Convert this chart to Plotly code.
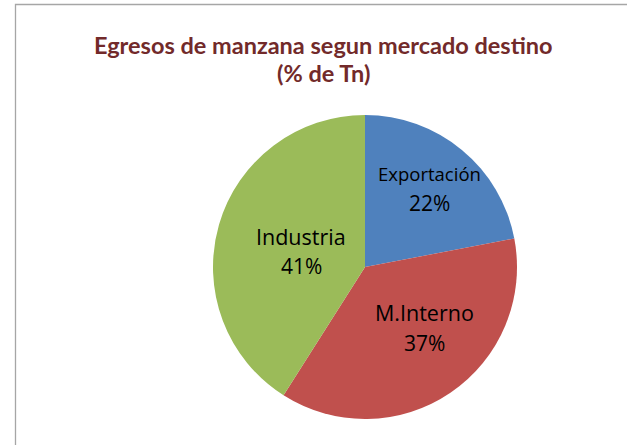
import plotly.graph_objects as go

labels = ["Exportación", "M.Interno", "Industria"]
values = [22, 37, 41]
colors = ["#4F81BD", "#C0504D", "#9BBB59"]
title_lines = ["Egresos de manzana segun mercado destino", "(% de Tn)"]

W, H = 627, 445

def px(x):
    return x / W

def py(y):
    return 1 - y / H

fig = go.Figure(go.Pie(
    labels=labels,
    values=values,
    sort=False,
    direction="clockwise",
    rotation=0,
    marker=dict(colors=colors, line=dict(width=0)),
    textinfo="none",
    showlegend=False,
    hoverinfo="label+percent",
    domain=dict(x=[px(213), px(517)], y=[py(419), py(115)]),
))

fig.add_shape(type="rect", xref="paper", yref="paper",
              x0=px(15.5), x1=1.05, y0=-0.05, y1=py(4.5),
              line=dict(color="#A6A6A6", width=1.3), fillcolor="rgba(0,0,0,0)", layer="below")

# title
for line, yc in zip(title_lines, [45, 73]):
    fig.add_annotation(
        text=f"<b>{line}</b>", xref="paper", yref="paper",
        x=px(323), y=py(yc), showarrow=False, xanchor="center", yanchor="middle",
        font=dict(family="Lato", size=23.5, color="#722A2A"),
    )

# data labels (label line + percent line)
total = sum(values)
label_pos = [(430, 173, 203), (425, 312, 343), (301, 236, 266)]
label_sizes = [18.5, 21.5, 21.5]
for lab, val, (xc, y1, y2), ls in zip(labels, values, label_pos, label_sizes):
    fig.add_annotation(text=lab, xref="paper", yref="paper", x=px(xc), y=py(y1),
                       showarrow=False, xanchor="center", yanchor="middle",
                       font=dict(family="Open Sans", size=ls, color="#000000"))
    fig.add_annotation(text=f"{round(100 * val / total)}%", xref="paper", yref="paper",
                       x=px(xc), y=py(y2), showarrow=False, xanchor="center", yanchor="middle",
                       font=dict(family="Open Sans", size=21, color="#000000"))

fig.update_layout(
    width=W, height=H,
    margin=dict(l=0, r=0, t=0, b=0),
    paper_bgcolor="white", plot_bgcolor="white",
)

fig.write_html("out.html", config={"displayModeBar": False},
               post_script="document.body.style.margin='0';document.body.style.overflow='hidden';")
